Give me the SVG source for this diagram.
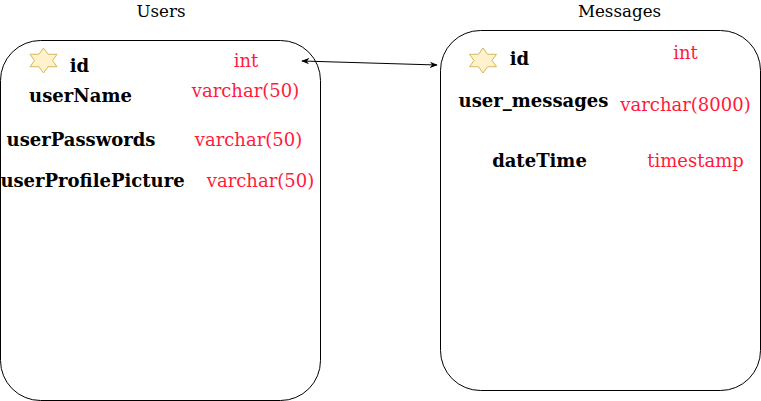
<svg xmlns="http://www.w3.org/2000/svg" width="761" height="401" viewBox="0 0 761 401">
<defs>
<style>
.box{fill:#fff;stroke:#000;stroke-width:1}
.title{font-family:"DejaVu Serif",serif;font-size:16.7px;fill:#000;text-anchor:middle}
.f{font-family:"DejaVu Serif",serif;font-size:18px;font-weight:bold;fill:#000;text-anchor:middle}
.t{font-family:"DejaVu Serif",serif;font-size:18px;fill:#ff1a3c;text-anchor:middle}
.star{fill:#fff2cc;stroke:#d6b656;stroke-width:1}
.conn{fill:none;stroke:#000;stroke-width:1}
</style>
<marker id="ah" viewBox="0 0 10 10" refX="9" refY="5" markerWidth="8" markerHeight="8" orient="auto-start-reverse" markerUnits="userSpaceOnUse">
<path d="M0,1 L10,5 L0,9 L3,5 Z" fill="#000"/>
</marker>
<path id="star6" d="M0,-12.5 L4.5,-6.25 L13.5,-6.25 L9,0 L13.5,6.25 L4.5,6.25 L0,12.5 L-4.5,6.25 L-13.5,6.25 L-9,0 L-13.5,-6.25 L-4.5,-6.25 Z"/>
</defs>
<rect width="761" height="401" fill="#fff"/>
<g id="users">
<text class="title" x="161" y="17">Users</text>
<rect class="box" x="0.5" y="40.5" width="320" height="360" rx="40" ry="40"/>
<use href="#star6" class="star" x="43.5" y="60.5"/>
<text class="f" x="79.5" y="72">id</text>
<text class="t" x="246" y="67">int</text>
<text class="f" x="80.5" y="102">userName</text>
<text class="t" x="245.5" y="97">varchar(50)</text>
<text class="f" x="81" y="146">userPasswords</text>
<text class="t" x="248.5" y="146">varchar(50)</text>
<text class="f" x="92.5" y="187">userProfilePicture</text>
<text class="t" x="260.5" y="187">varchar(50)</text>
</g>
<g id="messages">
<text class="title" x="619.5" y="17">Messages</text>
<rect class="box" x="440.5" y="30.5" width="320" height="360" rx="40" ry="40"/>
<use href="#star6" class="star" x="483" y="60.5"/>
<text class="f" x="519.5" y="65">id</text>
<text class="t" x="685.5" y="59">int</text>
<text class="f" x="533.5" y="107">user_messages</text>
<text class="t" x="685.5" y="111">varchar(8000)</text>
<text class="f" x="539.5" y="167">dateTime</text>
<text class="t" x="695.5" y="167">timestamp</text>
</g>
<g id="connectors">
<line class="conn" x1="302" y1="61" x2="437" y2="65" marker-start="url(#ah)" marker-end="url(#ah)"/>
</g>
</svg>
